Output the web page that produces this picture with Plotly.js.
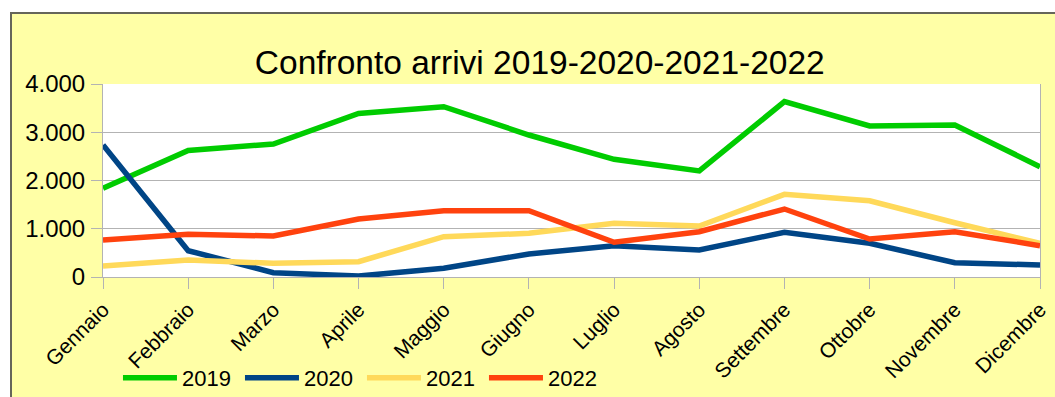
<!DOCTYPE html>
<html>
<head>
<meta charset="utf-8">
<script src="https://cdn.plot.ly/plotly-3.0.1.min.js"></script>
<style>
  html, body { margin: 0; padding: 0; background: #ffffff; width: 1055px; height: 397px; overflow: hidden; }
  #frame { position: absolute; left: 10px; top: 12px; width: 1043px; height: 383px;
           border-left: 2px solid #66665a; border-top: 2px solid #66665a; background: #ffffa6; }
  #chart { width: 1043px; height: 383px; }
</style>
</head>
<body>
<div id="frame"><div id="chart"></div></div>
<script>
const months = ["Gennaio","Febbraio","Marzo","Aprile","Maggio","Giugno","Luglio","Agosto","Settembre","Ottobre","Novembre","Dicembre"];
const seriesNames = ["2019","2020","2021","2022"];
const arrivi2019 = [1840, 2620, 2756, 3390, 3530, 2943, 2440, 2200, 3634, 3130, 3150, 2286];
const arrivi2020 = [2736, 545, 90, 20, 180, 477, 650, 560, 926, 698, 296, 249];
const arrivi2021 = [228, 352, 284, 318, 835, 906, 1113, 1057, 1714, 1581, 1125, 698];
const arrivi2022 = [767, 885, 850, 1202, 1374, 1374, 719, 939, 1409, 788, 939, 649];
const colors = ["#00cc00", "#004586", "#ffd95a", "#ff420e"];
const allSeries = [arrivi2019, arrivi2020, arrivi2021, arrivi2022];

const traces = allSeries.map((vals, i) => ({
  type: "scatter",
  mode: "lines",
  x: months,
  y: vals,
  name: seriesNames[i],
  line: { color: colors[i], width: 5.5 },
  hoverinfo: "skip"
}));

const layout = {
  width: 1043,
  height: 383,
  paper_bgcolor: "#ffffa6",
  plot_bgcolor: "#ffffff",
  separators: ",.",
  font: { family: "Liberation Sans, Arial, sans-serif", color: "#000000" },
  margin: { l: 91, r: 15, t: 70, b: 120, autoexpand: false },
  title: {
    text: "Confronto arrivi 2019-2020-2021-2022",
    font: { size: 33.5, color: "#000000" },
    xref: "container", x: 0.506, xanchor: "center",
    yref: "container", y: 0.875, yanchor: "middle"
  },
  xaxis: {
    type: "category",
    range: [0, 11],
    tickangle: -45,
    ticks: "outside",
    ticklen: 11,
    tickcolor: "#b3b3b3",
    tickwidth: 1,
    showline: true,
    linecolor: "#b3b3b3",
    linewidth: 1,
    showgrid: false,
    automargin: false,
    tickfont: { size: 21 },
    fixedrange: true
  },
  yaxis: {
    range: [0, 4000],
    dtick: 1000,
    tickformat: ",d",
    ticks: "outside",
    ticklen: 11,
    tickcolor: "#b3b3b3",
    tickwidth: 1,
    showline: true,
    mirror: true,
    linecolor: "#b3b3b3",
    linewidth: 1,
    gridcolor: "#b3b3b3",
    gridwidth: 1,
    zeroline: false,
    automargin: false,
    tickfont: { size: 24 },
    ticklabelstandoff: 1,
    fixedrange: true
  },
  showlegend: true,
  legend: {
    orientation: "h",
    xref: "container", x: 0.1016, xanchor: "left",
    yref: "container", y: 0.0496, yanchor: "middle",
    bgcolor: "rgba(0,0,0,0)",
    font: { size: 22 },
    itemwidth: 54,
    entrywidth: 53,
    entrywidthmode: "pixels",
    tracegroupgap: 0
  }
};

Plotly.newPlot("chart", traces, layout, { displayModeBar: false, staticPlot: true });
</script>
</body>
</html>
